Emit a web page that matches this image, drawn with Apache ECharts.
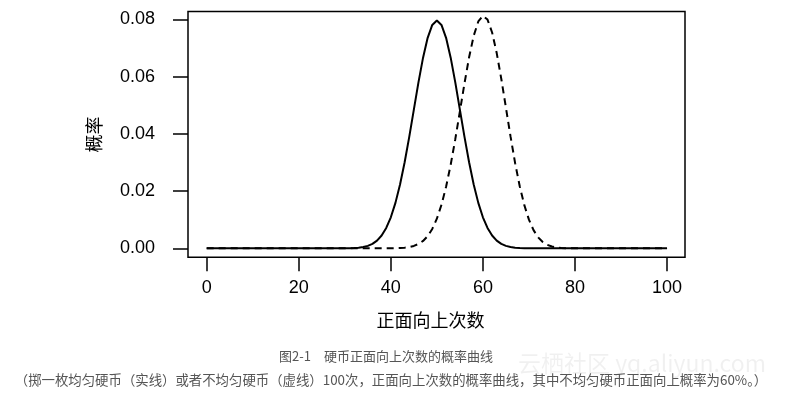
<!DOCTYPE html>
<html>
<head>
<meta charset="utf-8">
<script src="https://cdn.jsdelivr.net/npm/echarts@6/dist/echarts.min.js"></script>
<style>
html,body{margin:0;padding:0;background:#fff;}
#chart{width:786px;height:395px;}
</style>
</head>
<body>
<div id="chart"></div>
<script>
// number of heads, 0..100
var heads = [];
for (var i = 0; i <= 100; i++) heads.push(i);

// probability, fair coin (solid line), k = 0..100
var fairProb = [
  0,0,0,0,0,0,0,0,0,0,
  0,0,0,0,0,0,0,0,0,0,
  0,0,0,0,0,0,0,0,0,0.00001,
  0.00002,0.00005,0.00011,0.00023,0.00046,0.00086,0.00156,0.00270,0.00447,0.00711,
  0.01084,0.01587,0.02229,0.03007,0.03895,0.04847,0.05796,0.06659,0.07353,0.07803,
  0.07959,
  0.07803,0.07353,0.06659,0.05796,0.04847,0.03895,0.03007,0.02229,0.01587,0.01084,
  0.00711,0.00447,0.00270,0.00156,0.00086,0.00046,0.00023,0.00011,0.00005,0.00002,
  0.00001,0,0,0,0,0,0,0,0,0,
  0,0,0,0,0,0,0,0,0,0,
  0,0,0,0,0,0,0,0,0,0
];

// probability, biased coin p = 0.6 (dashed line), k = 0..100
var biasedProb = [
  0,0,0,0,0,0,0,0,0,0,
  0,0,0,0,0,0,0,0,0,0,
  0,0,0,0,0,0,0,0,0,0,
  0,0,0,0,0,0,0,0,0,0.00001,
  0.00002,0.00005,0.00011,0.00023,0.00044,0.00083,0.00149,0.00257,0.00425,0.00676,
  0.01034,0.01520,0.02149,0.02919,0.03811,0.04781,0.05763,0.06673,0.07421,0.07924,
  0.08122,0.07989,0.07538,0.06820,0.05914,0.04913,0.03908,0.02975,0.02166,0.01507,
  0.01001,0.00634,0.00383,0.00220,0.00121,0.00063,0.00031,0.00015,0.00006,0.00003,
  0.00001,0,0,0,0,0,0,0,0,0,
  0,0,0,0,0,0,0,0,0,0,
  0
];

var xTicks = [0, 20, 40, 60, 80, 100];
var yTicks = [0, 0.02, 0.04, 0.06, 0.08];

var xAxisTitle = '正面向上次数';
var yAxisTitle = '概率';
var caption1 = '图2-1　硬币正面向上次数的概率曲线';
var caption2 = '（掷一枚均匀硬币（实线）或者不均匀硬币（虚线）100次，正面向上次数的概率曲线，其中不均匀硬币正面向上概率为60%。）';
var watermark = '云栖社区 yq.aliyun.com';

function pairs(ys) {
  return heads.map(function (x, i) { return [x, ys[i]]; });
}

var chart = echarts.init(document.getElementById('chart'), null, {renderer: 'canvas'});
var axisFont = 'Liberation Sans, Arial, sans-serif';
var cjkFont = 'Noto Sans CJK SC, sans-serif';

chart.setOption({
  animation: false,
  backgroundColor: '#fff',
  grid: {
    left: 188, right: 101, top: 11.5, bottom: 137.7,
    show: true, borderColor: '#000', borderWidth: 1.5, backgroundColor: 'transparent'
  },
  xAxis: {
    type: 'value', min: -4.06, max: 103.9,
    name: xAxisTitle, nameLocation: 'middle', nameGap: 54,
    nameTextStyle: {fontFamily: cjkFont, fontSize: 18, color: '#000', padding: [0, 12, 0, 0]},
    axisLine: {show: false, onZero: false},
    splitLine: {show: false},
    axisTick: {show: true, customValues: xTicks, length: 14, lineStyle: {color: '#000', width: 1.5}},
    axisLabel: {customValues: xTicks, margin: 22, fontFamily: axisFont, fontSize: 18, color: '#000'}
  },
  yAxis: {
    type: 'value', min: -0.00314, max: 0.08272,
    name: yAxisTitle, nameLocation: 'middle', nameGap: 85, nameRotate: 90,
    nameTextStyle: {fontFamily: cjkFont, fontSize: 18, color: '#000'},
    axisLine: {show: false, onZero: false},
    splitLine: {show: false},
    axisTick: {show: true, customValues: yTicks, length: 15, lineStyle: {color: '#000', width: 1.5}},
    axisLabel: {
      customValues: yTicks, margin: 33, fontFamily: axisFont, fontSize: 18, color: '#000',
      formatter: function (v) { return v.toFixed(2); }
    }
  },
  series: [
    {
      type: 'line', data: pairs(fairProb), showSymbol: false, smooth: false,
      lineStyle: {color: '#000', width: 2, type: 'solid'}
    },
    {
      type: 'line', data: pairs(biasedProb), showSymbol: false, smooth: false,
      lineStyle: {color: '#000', width: 2, type: [7, 5]}
    }
  ],
  graphic: [
    {
      type: 'text', left: 518, top: 352, silent: true, z: -1,
      style: {text: watermark, fontFamily: 'Noto Sans CJK SC, sans-serif', fontSize: 23, fill: 'rgba(0,0,0,0.06)'}
    },
    {
      type: 'text', x: 386, y: 356, silent: true,
      style: {text: caption1, fontFamily: cjkFont, fontSize: 13, fill: '#555', align: 'center', verticalAlign: 'middle'}
    },
    {
      type: 'text', x: 391, y: 380, silent: true,
      style: {text: caption2, fontFamily: cjkFont, fontSize: 13.4, fill: '#555', align: 'center', verticalAlign: 'middle'}
    }
  ]
});
</script>
</body>
</html>
